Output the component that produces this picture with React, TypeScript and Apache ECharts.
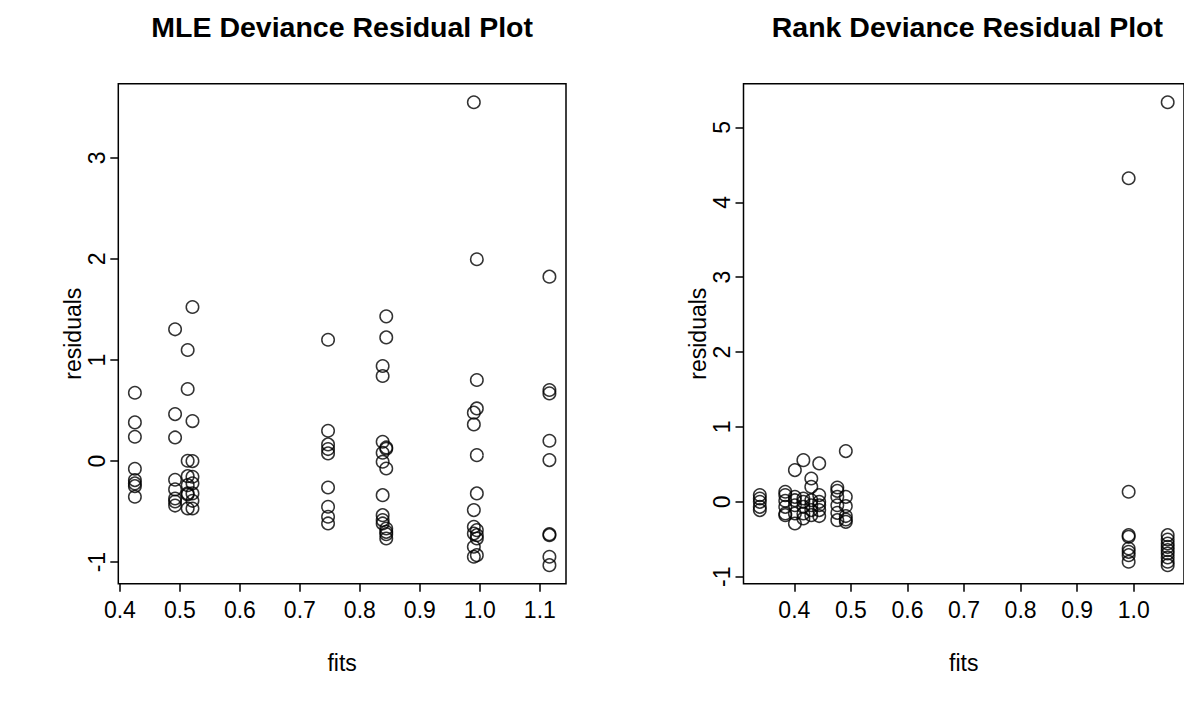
import React, { useEffect, useRef } from "react";
import * as echarts from "echarts";

// ---- Data ----
const mleFitLevels = [0.425, 0.492, 0.513, 0.521, 0.747, 0.838, 0.844, 0.99, 0.995, 1.116];
const mleResidualsByLevel = [
  [0.676, 0.383, 0.241, -0.076, -0.188, -0.221, -0.248, -0.353],
  [1.304, 0.465, 0.234, -0.185, -0.28, -0.37, -0.4, -0.44],
  [1.099, 0.713, 0.003, -0.149, -0.238, -0.32, -0.33, -0.469],
  [1.525, 0.396, 0.0, -0.155, -0.22, -0.32, -0.393, -0.469],
  [1.201, 0.3, 0.165, 0.119, 0.076, -0.261, -0.452, -0.551, -0.617],
  [0.941, 0.842, 0.191, 0.083, -0.006, -0.337, -0.535, -0.584, -0.617],
  [1.432, 1.224, 0.135, 0.122, -0.073, -0.667, -0.7, -0.723, -0.766],
  [3.551, 0.479, 0.363, -0.485, -0.65, -0.716, -0.848, -0.947],
  [1.997, 0.802, 0.521, 0.059, -0.32, -0.683, -0.733, -0.766, -0.931],
  [1.825, 0.703, 0.67, 0.201, 0.01, -0.723, -0.733, -0.947, -1.03],
];

const rankFitLevels = [0.339, 0.384, 0.401, 0.416, 0.43, 0.444, 0.476, 0.491, 0.991, 1.06];
const rankResidualsByLevel = [
  [0.09, 0.045, 0.0, -0.067, -0.11],
  [0.134, 0.09, 0.014, -0.067, -0.156, -0.178],
  [0.424, 0.067, 0.022, -0.045, -0.156, -0.289],
  [0.557, 0.045, 0.0, -0.067, -0.156, -0.223],
  [0.312, 0.2, 0.022, -0.045, -0.11, -0.178],
  [0.513, 0.09, 0.0, -0.045, -0.11, -0.19],
  [0.192, 0.147, 0.067, -0.045, -0.147, -0.245],
  [0.678, 0.067, -0.058, -0.19, -0.236, -0.267],
  [4.322, 0.134, -0.445, -0.467, -0.623, -0.668, -0.712, -0.8],
  [5.337, -0.445, -0.503, -0.556, -0.601, -0.645, -0.69, -0.743, -0.8, -0.846],
];

const mleXTicks = [0.4, 0.5, 0.6, 0.7, 0.8, 0.9, 1.0, 1.1];
const mleYTicks = [-1, 0, 1, 2, 3];
const rankXTicks = [0.4, 0.5, 0.6, 0.7, 0.8, 0.9, 1.0];
const rankYTicks = [-1, 0, 1, 2, 3, 4, 5];

const titles = ["MLE Deviance Residual Plot", "Rank Deviance Residual Plot"];
const xName = "fits";
const yName = "residuals";

// ---- helpers ----
const FONT = "'Liberation Sans', Arial, Helvetica, sans-serif";

function toPoints(levels: number[], byLevel: number[][]): number[][] {
  const out: number[][] = [];
  levels.forEach((f, i) => byLevel[i].forEach((r) => out.push([f, r])));
  return out;
}

// R default: extend data range by 4% on each side
function rRange(vals: number[]): [number, number] {
  const mn = Math.min(...vals);
  const mx = Math.max(...vals);
  const d = (mx - mn) * 0.04;
  return [mn - d, mx + d];
}

export default function App() {
  const ref = useRef<HTMLDivElement>(null);

  useEffect(() => {
    if (!ref.current) return;
    const chart = echarts.init(ref.current, undefined, { renderer: "svg" });

    const mlePts = toPoints(mleFitLevels, mleResidualsByLevel);
    const rankPts = toPoints(rankFitLevels, rankResidualsByLevel);

    const mleX = rRange(mlePts.map((p) => p[0]));
    const mleY = rRange(mlePts.map((p) => p[1]));
    const rankX = rRange(rankPts.map((p) => p[0]));
    const rankY = rRange(rankPts.map((p) => p[1]));

    const gridTop = 83.7;
    const gridH = 500;
    const gridW = 447.7;
    const lefts = [118.3, 743.5];

    const mkX = (idx: number, range: [number, number], ticks: number[]) => ({
      type: "value",
      gridIndex: idx,
      min: range[0],
      max: range[1],
      name: xName,
      nameLocation: "middle",
      nameGap: 68,
      nameTextStyle: { fontSize: 23, color: "#000", fontFamily: FONT },
      axisLine: { show: false, onZero: false },
      axisTick: {
        show: true,
        inside: false,
        length: 8,
        customValues: ticks,
        lineStyle: { color: "#000", width: 1.5 },
      },
      axisLabel: {
        show: true,
        customValues: ticks,
        formatter: (v: number) => v.toFixed(1),
        fontSize: 23,
        margin: 15,
        color: "#000",
        fontFamily: FONT,
      },
      splitLine: { show: false },
    });

    const mkY = (idx: number, range: [number, number], ticks: number[]) => ({
      type: "value",
      gridIndex: idx,
      min: range[0],
      max: range[1],
      name: yName,
      nameLocation: "middle",
      nameRotate: 90,
      nameGap: 33,
      nameTextStyle: { fontSize: 23, color: "#000", fontFamily: FONT },
      axisLine: { show: false, onZero: false },
      axisTick: {
        show: true,
        inside: false,
        length: 8,
        customValues: ticks,
        lineStyle: { color: "#000", width: 1.5 },
      },
      axisLabel: {
        show: true,
        customValues: ticks,
        rotate: 90,
        formatter: (v: number) => String(v),
        fontSize: 23,
        margin: 10,
        color: "#000",
        fontFamily: FONT,
      },
      splitLine: { show: false },
    });

    const scatterStyle = {
      type: "scatter",
      symbol: "circle",
      symbolSize: 12.5,
      itemStyle: { color: "rgba(0,0,0,0)", borderColor: "#000", borderWidth: 1.5 },
      emphasis: { disabled: true },
    };

    chart.setOption({
      animation: false,
      backgroundColor: "#fff",
      grid: lefts.map((l) => ({
        left: l,
        top: gridTop,
        width: gridW,
        height: gridH,
        show: true,
        borderColor: "#000",
        borderWidth: 1.5,
        backgroundColor: "transparent",
      })),
      xAxis: [mkX(0, mleX, mleXTicks), mkX(1, rankX, rankXTicks)],
      yAxis: [mkY(0, mleY, mleYTicks), mkY(1, rankY, rankYTicks)],
      series: [
        { ...scatterStyle, xAxisIndex: 0, yAxisIndex: 0, data: mlePts },
        { ...scatterStyle, xAxisIndex: 1, yAxisIndex: 1, data: rankPts },
      ],
      graphic: titles.map((t, i) => ({
        type: "text",
        x: lefts[i] + gridW / 2,
        y: 27,
        style: {
          text: t,
          fontSize: 28.5,
          fontWeight: "bold",
          fontFamily: FONT,
          fill: "#000",
          textAlign: "center",
          textVerticalAlign: "middle",
        },
      })),
    });

    return () => chart.dispose();
  }, []);

  return (
    <div
      ref={ref}
      style={{ position: "absolute", left: 0, top: 0, width: 1184, height: 702 }}
    />
  );
}
